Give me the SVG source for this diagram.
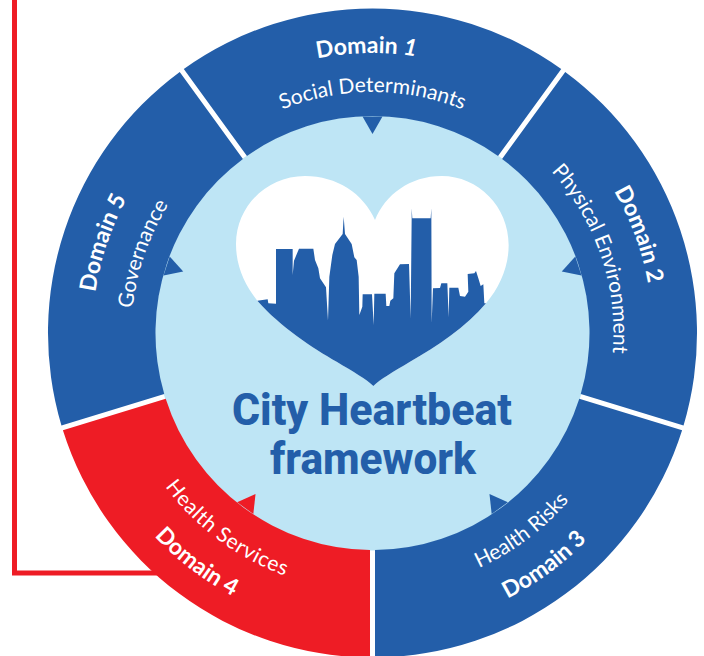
<svg xmlns="http://www.w3.org/2000/svg" width="704" height="656" viewBox="0 0 704 656">
<style>
.blue{fill:#235ea9}.red{fill:#ee1c25}.light{fill:#bee5f5}
.dom{font-family:Lato,"Open Sans",sans-serif;font-size:23px;font-weight:700;fill:#fff;text-anchor:middle}
.sub{font-family:Lato,"Open Sans",sans-serif;font-size:21px;font-weight:400;fill:#fff;text-anchor:middle}
.title{font-family:Roboto,"Liberation Sans",sans-serif;font-size:44px;font-weight:800;fill:#235ea9}
</style>
<defs>
<path id="t241" d="M163.79,212.5A241,241 0 0 1 581.21,212.5"/>
<path id="t280" d="M130,193A280,280 0 0 1 615,193"/>
<path id="b258" d="M149.07,462A258,258 0 0 0 595.93,462"/>
<path id="b298" d="M114.43,482A298,298 0 0 0 630.57,482"/>
<polygon id="notch" points="362.5,116.5 382.5,116.5 372.5,134"/>
</defs>
<rect width="704" height="656" fill="#fff"/>
<g id="connectors"><path d="M14.5,0V573H165" fill="none" stroke="#ee1c25" stroke-width="5"/></g>
<circle id="hub-disc" class="light" cx="372.5" cy="333" r="217.5"/>
<g id="domain-1">
<path class="blue" d="M183.78,69A324.5,324.5 0 0 1 561.22,69L498.03,155.97A217,217 0 0 0 246.97,155.97Z"/>
<use href="#notch" class="blue"/>
<text class="dom" transform="rotate(-1.2 372.5 333)"><textPath href="#t280" startOffset="50%">Domain <tspan font-style="italic">1</tspan></textPath></text>
<text class="sub"><textPath href="#t241" startOffset="50%">Social Determinants</textPath></text>
</g>
<g id="domain-2">
<path class="blue" d="M565.26,71.94A324.5,324.5 0 0 1 683.55,425.49L580.75,394.06A217,217 0 0 0 502.07,158.91Z"/>
<use href="#notch" class="blue" transform="rotate(72 372.5 333)"/>
<text class="dom" transform="rotate(69.7 372.5 333)"><textPath href="#t280" startOffset="50%">Domain 2</textPath></text>
<text class="sub" transform="rotate(71.3 372.5 333)"><textPath href="#t241" startOffset="50%">Physical Environment</textPath></text>
</g>
<g id="domain-3">
<path class="blue" d="M682.09,430.27A324.5,324.5 0 0 1 375,657.5L375,550A217,217 0 0 0 579.29,398.84Z"/>
<use href="#notch" class="blue" transform="rotate(144 372.5 333)"/>
<text class="sub" transform="rotate(-37 372.5 333)"><textPath href="#b258" startOffset="50%">Health Risks</textPath></text>
<text class="dom" transform="rotate(-36.5 372.5 333)"><textPath href="#b298" startOffset="50%">Domain 3</textPath></text>
</g>
<g id="domain-4">
<path class="red" d="M370,657.5A324.5,324.5 0 0 1 62.91,430.27L165.71,398.84A217,217 0 0 0 370,550Z"/>
<use href="#notch" class="red" transform="rotate(216 372.5 333)"/>
<text class="sub" letter-spacing=".6" transform="rotate(36.6 372.5 333)"><textPath href="#b258" startOffset="50%">Health Services</textPath></text>
<text class="dom" transform="rotate(37.5 372.5 333)"><textPath href="#b298" startOffset="50%">Domain 4</textPath></text>
</g>
<g id="domain-5">
<path class="blue" d="M61.45,425.49A324.5,324.5 0 0 1 179.74,71.94L242.93,158.91A217,217 0 0 0 164.25,394.06Z"/>
<use href="#notch" class="blue" transform="rotate(288 372.5 333)"/>
<text class="dom" transform="rotate(-71.5 372.5 333)"><textPath href="#t280" startOffset="50%">Domain 5</textPath></text>
<text class="sub" transform="rotate(-71 372.5 333)"><textPath href="#t241" startOffset="50%">Governance</textPath></text>
</g>
<g id="hub">
<g transform="translate(220 170) scale(.33333)">
<path fill="#fff" d="M465,150C430,70 350,18 255,18C140,18 48,110 48,222C48,290 75,345 112,392C180,470 280,535 350,575C400,605 440,628 460,648C480,628 520,605 570,575C650,530 740,470 798,400C840,350 866,290 866,225C866,110 775,18 665,18C570,18 495,75 465,150Z"/>
<path class="blue" d="M112,392L143,388L145,400L168,401L168,237L218,237L218,315L222,272L237,236L280,236L285,270L295,295L300,325L318,352L324,452L328,320L337,255L345,222L368,192L371,140L375,192L395,222L403,262L410,270L416,320L418,435L427,410L428,373L456,373L461,465L463,371L497,371L499,408L508,408L511,392L520,385L523,310L540,283L567,282L572,445L575,145L575,115L577,145L632,145L634,115L635,460L639,355L660,354L664,340L682,340L686,442L688,353L715,353L720,378L735,380L745,365L743,312L763,310L768,303L775,325L782,348L790,343L793,400L798,400C740,470 650,530 570,575C520,605 480,628 460,648C440,628 400,605 350,575C280,535 180,470 112,392Z"/>
</g>
<text class="title" x="232" y="425" textLength="280" lengthAdjust="spacingAndGlyphs">City Heartbeat</text>
<text class="title" x="270" y="474" textLength="206" lengthAdjust="spacingAndGlyphs">framework</text>
</g>
</svg>
